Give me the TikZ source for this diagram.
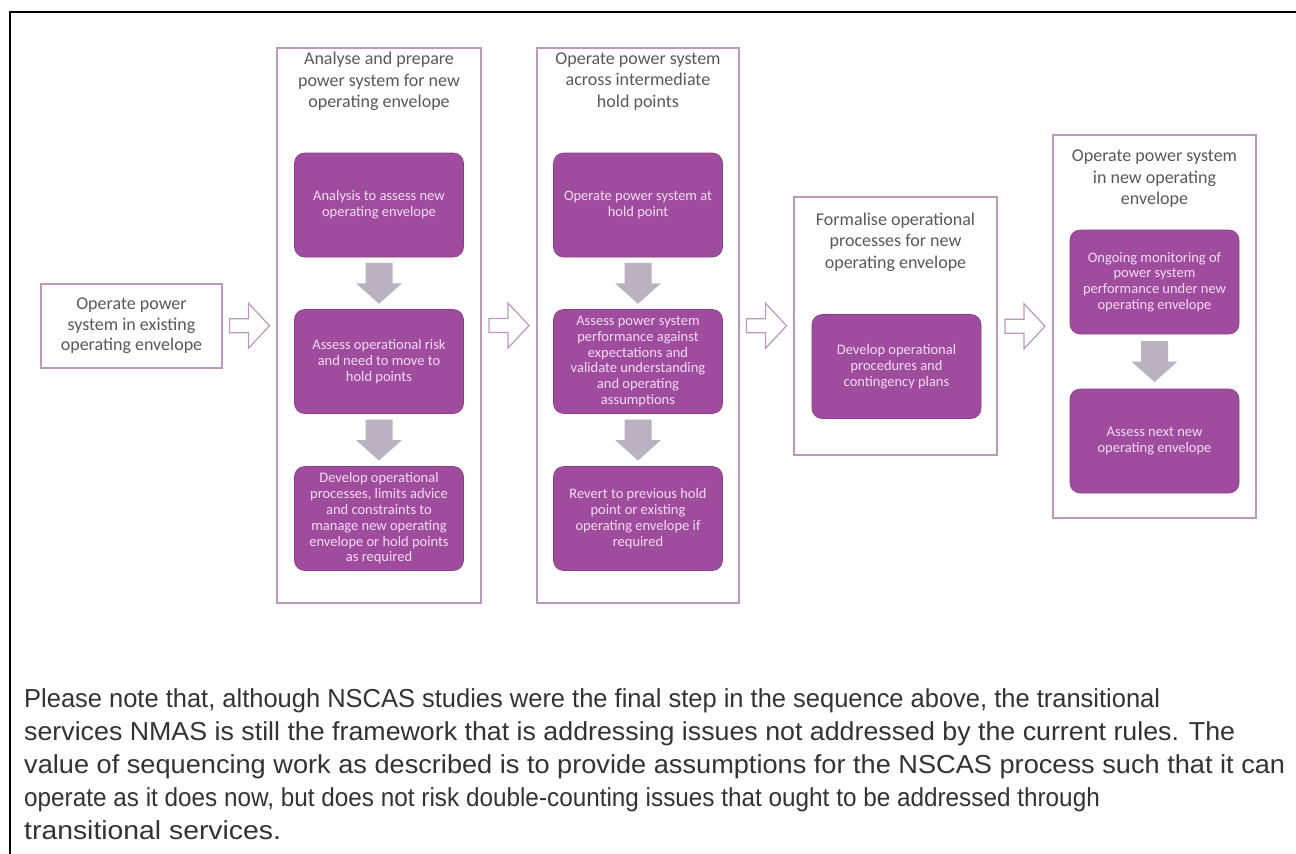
\documentclass[tikz,border=0pt]{standalone}
\usepackage{fontspec}
\setmainfont{Carlito}
\newfontfamily\parafont{Liberation Sans}
\usetikzlibrary{calc}
\definecolor{purp}{RGB}{160,76,158}
\definecolor{purpedge}{RGB}{138,62,136}
\definecolor{framecol}{RGB}{188,152,188}
\definecolor{ttl}{RGB}{89,89,89}
\definecolor{intxt}{RGB}{246,220,243}
\definecolor{garr}{RGB}{186,178,192}
\definecolor{paratxt}{RGB}{51,51,51}
\begin{document}
\begin{tikzpicture}[x=1pt,y=-1pt,
  outer/.style={draw=framecol, line width=1.3pt, fill=white, inner sep=0pt},
  inner/.style={draw=purpedge, line width=0.6pt, fill=purp, rounded corners=10pt,
    minimum width=169pt, minimum height=104pt, text=intxt, align=center,
    font=\fontsize{14.5}{15.8}\selectfont, inner sep=0pt},
  title/.style={text=ttl, align=center, font=\fontsize{18}{21.5}\selectfont, inner sep=0pt},
  para/.style={anchor=base west, text=paratxt, font=\parafont\fontsize{26}{33}\selectfont, inner sep=0pt, transform shape},
  garrow/.pic={\fill[garr] (-13.5,-20.5) -- (13.5,-20.5) -- (13.5,0) -- (23,0) -- (0,20.5) -- (-23,0) -- (-13.5,0) -- cycle;},
  oarrow/.pic={\draw[framecol, line width=1.2pt, fill=white, line join=miter] (-20,-7) -- (-1,-7) -- (-1,-22.5) -- (20,0) -- (-1,22.5) -- (-1,7) -- (-20,7) -- cycle;}
]
\useasboundingbox (0,0) rectangle (1296,854);
\fill[white] (0,0) rectangle (1296,854);
\draw[line width=2.5pt] (1296,12) -- (10,12) -- (10,854);

% first box
\node[outer, minimum width=181pt, minimum height=84pt, text=ttl, align=center,
  font=\fontsize{18}{20.5}\selectfont] (s0) at (131.5,326)
  {Operate power\\system in existing\\operating envelope};

% column 1
\node[outer, minimum width=204pt, minimum height=555pt] (c1) at (379,325.5) {};
\node[title] (t1) at (379,81.5) {Analyse and prepare\\power system for new\\operating envelope};
\node[inner] (b11) at (379,205) {Analysis to assess new\\operating envelope};
\node[inner] (b12) at (379,361.5) {Assess operational risk\\and need to move to\\hold points};
\node[inner] (b13) at (379,518.5) {Develop operational\\processes, limits advice\\and constraints to\\manage new operating\\envelope or hold points\\as required};
\pic at ($(b11.south)!0.5!(b12.north)$) {garrow};
\pic at ($(b12.south)!0.5!(b13.north)$) {garrow};

% column 2
\node[outer, minimum width=202pt, minimum height=555pt] (c2) at (638,325.5) {};
\node[title] (t2) at (638,81.5) {Operate power system\\across intermediate\\hold points};
\node[inner] (b21) at (638,205) {Operate power system at\\hold point};
\node[inner] (b22) at (638,361.5) {Assess power system\\performance against\\expectations and\\validate understanding\\and operating\\assumptions};
\node[inner] (b23) at (638,518.5) {Revert to previous hold\\point or existing\\operating envelope if\\required};
\pic at ($(b21.south)!0.5!(b22.north)$) {garrow};
\pic at ($(b22.south)!0.5!(b23.north)$) {garrow};

% column 3
\node[outer, minimum width=203pt, minimum height=258pt] (c3) at (895.5,326) {};
\node[title] (t3) at (895.5,242) {Formalise operational\\processes for new\\operating envelope};
\node[inner] (b31) at (896.5,366.5) {Develop operational\\procedures and\\contingency plans};

% column 4
\node[outer, minimum width=203pt, minimum height=383pt] (c4) at (1154.5,326.5) {};
\node[title] (t4) at (1154.5,179) {Operate power system\\in new operating\\envelope};
\node[inner] (b41) at (1154.5,282) {Ongoing monitoring of\\power system\\performance under new\\operating envelope};
\node[inner] (b42) at (1154.5,441) {Assess next new\\operating envelope};
\pic at ($(b41.south)!0.5!(b42.north)$) {garrow};

% outline arrows between stages
\pic at ($(s0.east)!0.5!(c1.west)$) {oarrow};
\pic at ($(c1.east)!0.5!(c2.west)$) {oarrow};
\pic at ($(c2.east)!0.5!(c3.west)$) {oarrow};
\pic at ($(c3.east)!0.5!(c4.west)$) {oarrow};

% paragraph
\node[para, xscale=0.98] (p1) at (24,707) {Please note that, although NSCAS studies were the final step in the sequence above, the transitional};
\node[para, xscale=1.03] (p2) at (24,740) {services NMAS is still the framework that is addressing issues not addressed by the current rules. The};
\node[para, xscale=1.045] (p3) at (24,773) {value of sequencing work as described is to provide assumptions for the NSCAS process such that it can};
\node[para, xscale=0.935] (p4) at (24,806) {operate as it does now, but does not risk double-counting issues that ought to be addressed through};
\node[para, xscale=1.09] (p5) at (24,839) {transitional services.};
\end{tikzpicture}
\end{document}
